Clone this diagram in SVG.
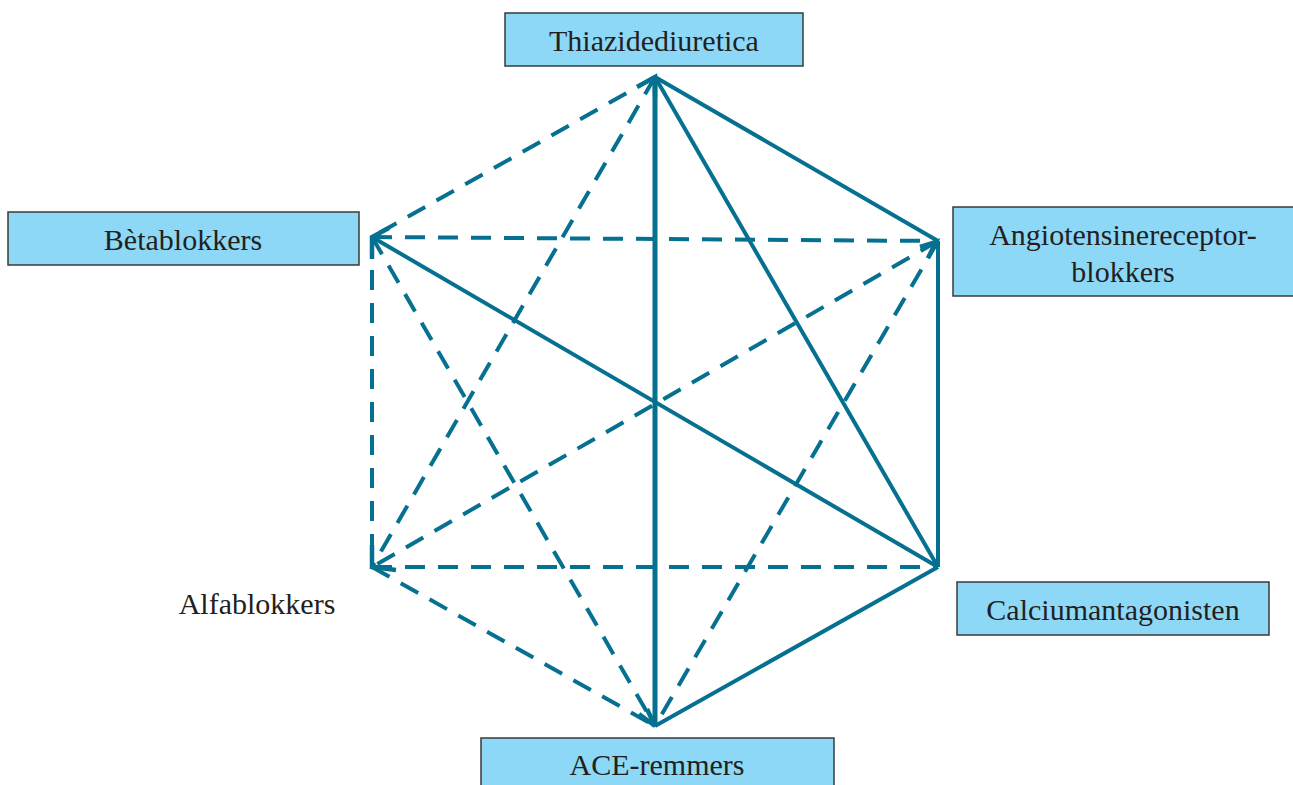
<svg xmlns="http://www.w3.org/2000/svg" width="1293" height="785" viewBox="0 0 1293 785">
<style>
.box{fill:#8dd8f6;stroke:#3a3a3a;stroke-width:1.5}
.lbl{font-family:"Liberation Serif","Times New Roman",serif;font-size:30px;fill:#231f20;text-anchor:middle}
.s{stroke:#05708f;stroke-width:4;fill:none}
.d{stroke:#05708f;stroke-width:4;fill:none;stroke-dasharray:20 13}
.ah{stroke:#05708f;stroke-width:4.5;fill:none;stroke-linejoin:miter;stroke-linecap:butt}
</style>
<rect width="1293" height="785" fill="#fff"/>
<g id="connectors">
<line class="s" x1="655" y1="77" x2="938" y2="241"/>
<line class="s" x1="655" y1="77" x2="938" y2="567"/>
<line class="s" x1="655" y1="77" x2="655" y2="726" style="stroke-width:5"/>
<line class="s" x1="372" y1="237" x2="938" y2="567"/>
<line class="s" x1="938" y1="241" x2="938" y2="567"/>
<line class="s" x1="938" y1="567" x2="655" y2="726"/>
<line class="d" x1="655" y1="77" x2="372" y2="237"/>
<line class="d" x1="655" y1="77" x2="372" y2="567"/>
<line class="d" x1="372" y1="237" x2="938" y2="241"/>
<line class="d" x1="372" y1="237" x2="372" y2="567"/>
<line class="d" x1="372" y1="237" x2="655" y2="726"/>
<line class="d" x1="938" y1="241" x2="372" y2="567"/>
<line class="d" x1="938" y1="241" x2="655" y2="726"/>
<line class="d" x1="372" y1="567" x2="938" y2="567"/>
<line class="d" x1="372" y1="567" x2="655" y2="726"/>
<polyline class="ah" points="637,87 655,77 655,97"/>
<polyline class="ah" points="389,228 372,237 372,259"/>
<polyline class="ah" points="372,545 372,567 396,570"/>
<polyline class="ah" points="920,247 936,242 928,258"/>
<polyline class="ah" points="639,714 655,726 647,709"/>
</g>
<g id="thiazide"><rect class="box" x="505" y="13" width="298" height="53"/><text class="lbl" x="654" y="51">Thiazidediuretica</text></g>
<g id="beta"><rect class="box" x="8" y="212" width="351" height="53"/><text class="lbl" x="183" y="250">Bètablokkers</text></g>
<g id="arb"><rect class="box" x="953" y="207" width="342" height="89"/><text class="lbl" x="1123" y="245">Angiotensinereceptor-</text><text class="lbl" x="1123" y="282">blokkers</text></g>
<g id="calcium"><rect class="box" x="957" y="582" width="312" height="53"/><text class="lbl" x="1113" y="620">Calciumantagonisten</text></g>
<g id="ace"><rect class="box" x="481" y="738" width="353" height="60"/><text class="lbl" x="657" y="775">ACE-remmers</text></g>
<g id="alfa"><text class="lbl" x="257" y="614">Alfablokkers</text></g>
</svg>
